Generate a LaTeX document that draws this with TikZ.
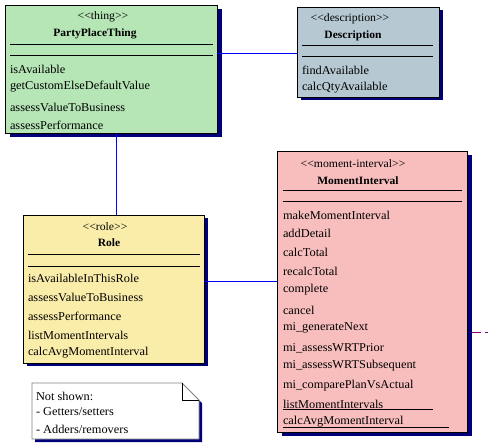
\documentclass[tikz,border=0pt]{standalone}
\usepackage{fontspec}
\setmainfont{Liberation Serif}[FakeStretch=1.03]
\usetikzlibrary{backgrounds}
\definecolor{pptfill}{HTML}{B6E5B6}
\definecolor{descfill}{HTML}{B6C8D2}
\definecolor{mifill}{HTML}{F8BEBE}
\definecolor{rolefill}{HTML}{FAEDAA}
\definecolor{shadowc}{HTML}{00007A}
\definecolor{linkc}{HTML}{0000FF}
\definecolor{dashc}{HTML}{800080}
\definecolor{notegray}{HTML}{808080}
\newcommand{\ltlt}{<{}<}
\newcommand{\gtgt}{>{}>}
\begin{document}
\begin{tikzpicture}[x=1pt,y=-1pt,
  every node/.style={inner sep=0pt,outer sep=0pt},
  umlbox/.style={draw=black,line width=0.9pt,rectangle,anchor=north west},
  sepline/.style={draw=black,line width=0.8pt},
  meth/.style={anchor=west,font=\fontsize{12}{14}\selectfont},
  stereo/.style={anchor=center,font=\fontsize{11.4}{13}\selectfont},
  title/.style={anchor=center,font=\fontsize{11.2}{13}\selectfont\bfseries},
  link/.style={draw=linkc,line width=0.9pt},
  shadowfill/.style={fill=shadowc}]
\useasboundingbox (0,0) rectangle (488,444);

% boxes
\node[umlbox,fill=pptfill,minimum width=212pt,minimum height=128pt] (ppt) at (5,5) {};
\node[umlbox,fill=descfill,minimum width=142pt,minimum height=90pt] (desc) at (297,7) {};
\node[umlbox,fill=mifill,minimum width=190pt,minimum height=281pt] (mi) at (277,151) {};
\node[umlbox,fill=rolefill,minimum width=181pt,minimum height=148pt] (role) at (23,215) {};

% shadows
\begin{scope}[on background layer]
  \fill[shadowfill] ([shift={(5,4)}]ppt.north west) rectangle ([shift={(5,4)}]ppt.south east);
  \fill[shadowfill] ([shift={(4,3)}]desc.north west) rectangle ([shift={(4,3)}]desc.south east);
  \fill[shadowfill] ([shift={(5,4)}]mi.north west) rectangle ([shift={(5,4)}]mi.south east);
  \fill[shadowfill] ([shift={(4,3)}]role.north west) rectangle ([shift={(4,3)}]role.south east);
\end{scope}

% PartyPlaceThing
\node[stereo] (pptst) at (103,17) {\ltlt thing\gtgt};
\node[title] (pptt) at (95,34) {PartyPlaceThing};
\draw[sepline] (10,44) -- (213,44);
\draw[sepline] (10,55) -- (213,55);
\node[meth] (ppt1) at (10,69) {isAvailable};
\node[meth] (ppt2) at (10,87) {getCustomElseDefaultValue};
\node[meth] (ppt3) at (10,107) {assessValueToBusiness};
\node[meth] (ppt4) at (10,125) {assessPerformance};

% Description
\node[stereo] (descst) at (350,19) {\ltlt description\gtgt};
\node[title] (desct) at (353,36) {Description};
\draw[sepline] (302,45) -- (433,45);
\draw[sepline] (302,56) -- (433,56);
\node[meth] (desc1) at (302,70) {findAvailable};
\node[meth] (desc2) at (302,88) {calcQtyAvailable};

% MomentInterval
\node[stereo] (mist) at (353,164) {\ltlt moment-interval\gtgt};
\node[title] (mit) at (358,181) {MomentInterval};
\draw[sepline] (283,190) -- (462,190);
\draw[sepline] (283,201) -- (462,201);
\node[meth] (mi1) at (283,215) {makeMomentInterval};
\node[meth] (mi2) at (283,233) {addDetail};
\node[meth] (mi3) at (283,252) {calcTotal};
\node[meth] (mi4) at (283,271) {recalcTotal};
\node[meth] (mi5) at (283,290) {complete};
\node[meth] (mi6) at (283,310) {cancel};
\node[meth] (mi7) at (283,328) {mi\_generateNext};
\node[meth] (mi8) at (283,348) {mi\_assessWRTPrior};
\node[meth] (mi9) at (283,366) {mi\_assessWRTSubsequent};
\node[meth] (mi10) at (283,386) {mi\_comparePlanVsActual};
\node[meth] (mi11) at (283,404) {listMomentIntervals};
\node[meth] (mi12) at (283,422) {calcAvgMomentInterval};
\draw[sepline] (283,409) -- (433,409);
\draw[sepline] (283,427) -- (449,427);

% Role
\node[stereo] (rolest) at (105,227) {\ltlt role\gtgt};
\node[title] (rolet) at (109,243) {Role};
\draw[sepline] (28,254) -- (200,254);
\draw[sepline] (28,266) -- (200,266);
\node[meth] (role1) at (28,278) {isAvailableInThisRole};
\node[meth] (role2) at (28,297) {assessValueToBusiness};
\node[meth] (role3) at (28,316) {assessPerformance};
\node[meth] (role4) at (28,335) {listMomentIntervals};
\node[meth] (role5) at (28,353) {calcAvgMomentInterval};

% Note
\fill[shadowfill] (185,386) -- (202,403) -- (202,442) -- (35,442) -- (35,439) -- (199,439) -- (199,400) -- cycle;
\draw[draw=notegray,fill=white,line width=0.8pt] (32,383) -- (182,383) -- (199,400) -- (199,439) -- (32,439) -- cycle;
\draw[draw=black,line width=0.7pt] (182,383) -- (182,400) -- (199,400);
\node[meth] (note1) at (36,396) {Not shown:};
\node[meth] (note2) at (36,412) {- Getters/setters};
\node[meth] (note3) at (36,429) {- Adders/removers};

% connectors
\coordinate (free) at (488,332.5);
\draw[link] (ppt.east |- 0,53.5) -- (desc.west |- 0,53.5);
\draw[link] (ppt.south -| 116.5,0) -- (role.north -| 116.5,0);
\draw[link] (role.east |- 0,281.5) -- (mi.west |- 0,281.5);
\draw[draw=dashc,line width=0.9pt,dash pattern=on 9pt off 4pt] ([xshift=5pt]mi.east |- 0,332.5) -- (free);
\end{tikzpicture}
\end{document}
